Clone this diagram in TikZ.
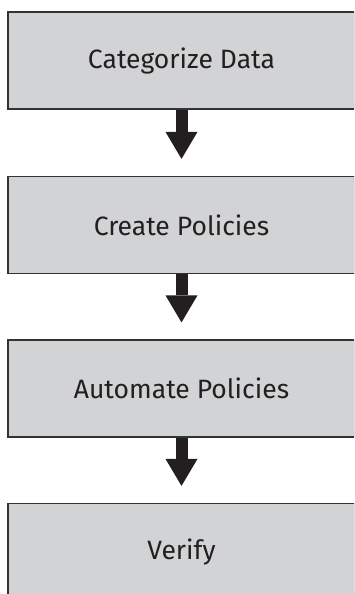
\documentclass[tikz,border=0pt]{standalone}
\usepackage{fontspec}
\setmainfont{Fira Sans}
\usetikzlibrary{arrows.meta, positioning}

\definecolor{boxgray}{HTML}{D1D3D4}
\definecolor{edgegray}{HTML}{333333}
\definecolor{inkblack}{HTML}{231F20}

\tikzset{
	stepbox/.style={draw=edgegray, line width=1.2pt, fill=boxgray, text=inkblack,
		minimum width=347pt, minimum height=97pt, inner sep=0pt,
		font=\fontsize{26.5}{31}\selectfont},
	bigarrow/.style={line width=12pt, draw=inkblack, shorten >=17pt,
		-{Triangle[length=27pt, width=32pt, line width=0pt]}}
}

\begin{document}
\begin{tikzpicture}[x=1pt, y=1pt]
		\clip (0,0) rectangle (354,-594);
		
		% caixas
		\node[stepbox] (cat) at (181.5,-60.5) {Categorize Data};
		\node[stepbox] (pol) at (181.5,-225) {Create Policies};
		\node[stepbox] (aut) at (181.5,-388.5) {Automate Policies};
		\node[stepbox] (ver) at (181.5,-552) {Verify};
		
		% setas
		\draw[bigarrow] (cat.south) -- (pol.north);
		\draw[bigarrow] (pol.south) -- (aut.north);
		\draw[bigarrow] (aut.south) -- (ver.north);
\end{tikzpicture}
\end{document}
